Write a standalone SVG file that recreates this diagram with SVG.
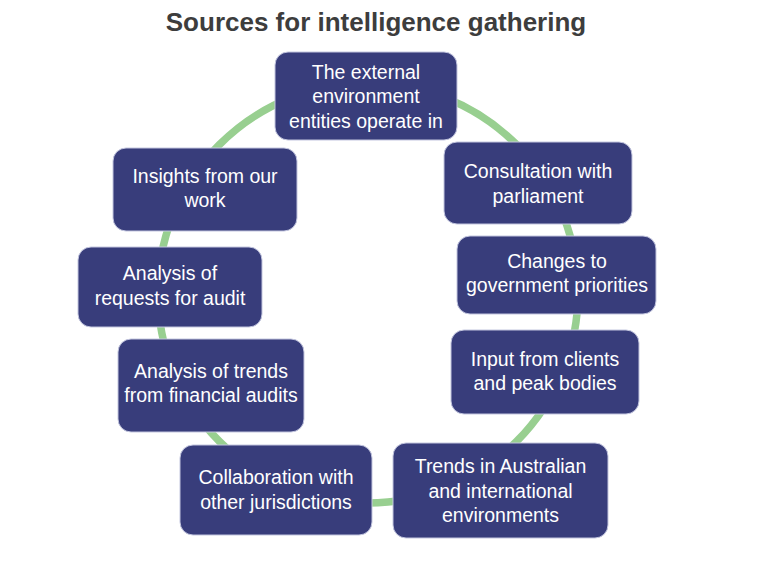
<svg xmlns="http://www.w3.org/2000/svg" width="768" height="576" viewBox="0 0 768 576">
<style>
.box{fill:#383d7b;stroke:#c3c6df;stroke-width:1}
.t{font-family:"Liberation Sans",Arial,sans-serif;font-size:19.5px;fill:#ffffff;text-anchor:middle}
.title{font-family:"Liberation Sans",Arial,sans-serif;font-size:26px;font-weight:bold;fill:#3d3d3d;text-anchor:middle}
.ring{fill:none;stroke:#98cf90;stroke-width:7.5}
</style>
<rect width="768" height="576" fill="#ffffff"/>
<text class="title" x="376" y="31">Sources for intelligence gathering</text>
<g id="connectors">
<circle class="ring" cx="368" cy="293" r="210"/>
</g>
<g id="n1"><rect class="box" x="275" y="52" width="182" height="88" rx="13"/>
<text class="t" x="366" y="79">The external</text><text class="t" x="366" y="103.3">environment</text><text class="t" x="366" y="127.7">entities operate in</text></g>
<g id="n2"><rect class="box" x="444" y="142" width="188" height="82" rx="13"/>
<text class="t" x="538" y="178">Consultation with</text><text class="t" x="538" y="203">parliament</text></g>
<g id="n3"><rect class="box" x="457" y="236" width="199" height="78" rx="13"/>
<text class="t" x="557" y="268">Changes to</text><text class="t" x="557" y="292">government priorities</text></g>
<g id="n4"><rect class="box" x="451" y="330" width="188" height="84" rx="13"/>
<text class="t" x="545" y="366">Input from clients</text><text class="t" x="545" y="390">and peak bodies</text></g>
<g id="n5"><rect class="box" x="393" y="443" width="215" height="95" rx="13"/>
<text class="t" x="500.5" y="473">Trends in Australian</text><text class="t" x="500.5" y="498">and international</text><text class="t" x="500.5" y="522">environments</text></g>
<g id="n6"><rect class="box" x="180" y="445" width="192" height="90" rx="13"/>
<text class="t" x="276" y="484">Collaboration with</text><text class="t" x="276" y="509">other jurisdictions</text></g>
<g id="n7"><rect class="box" x="118" y="339" width="186" height="93" rx="13"/>
<text class="t" x="211" y="378">Analysis of trends</text><text class="t" x="211" y="402">from financial audits</text></g>
<g id="n8"><rect class="box" x="78" y="247" width="184" height="80" rx="13"/>
<text class="t" x="170" y="280">Analysis of</text><text class="t" x="170" y="305">requests for audit</text></g>
<g id="n9"><rect class="box" x="113" y="148" width="184" height="83" rx="13"/>
<text class="t" x="205" y="183">Insights from our</text><text class="t" x="205" y="207">work</text></g>
</svg>
